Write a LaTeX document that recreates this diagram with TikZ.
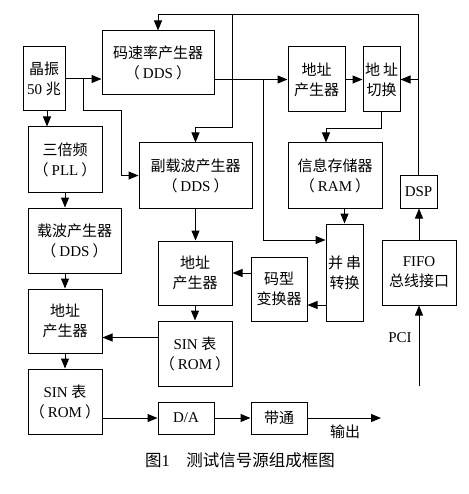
\documentclass[tikz,border=0pt]{standalone}
\usepackage{fontspec}
\setmainfont{Liberation Serif}
\newfontfamily\cjk{Noto Sans CJK SC}
\newcommand\zh[1]{{\cjk #1}}
\newcommand\pp[1]{\zh{（}\hspace{3pt}#1\hspace{3pt}\zh{）}}
\usetikzlibrary{arrows.meta}
\begin{document}
\begin{tikzpicture}[x=1pt,y=-1pt,
 blk/.style={draw, line width=1pt, inner sep=0pt, align=center, font=\fontsize{15}{20}\selectfont},
 arr/.style={line width=1pt, -{Triangle[length=10pt,width=8pt]}},
 ln/.style={line width=1pt},
 lbl/.style={inner sep=0pt, font=\fontsize{15}{20}\selectfont}]
\useasboundingbox (0,0) rectangle (468,494);
% boxes
\node[blk, minimum width=42, minimum height=64] (xtal) at (44,79) {\zh{晶振}\\50 \zh{兆}};
\node[blk, minimum width=112, minimum height=64] (mscl) at (158,63) {\zh{码速率产生器}\\\pp{DDS}};
\node[blk, minimum width=57, minimum height=65] (addr1) at (316.5,79.5) {\zh{地址}\\\zh{产生器}};
\node[blk, minimum width=37, minimum height=65] (sw) at (381.5,79.5) {\zh{地}\hspace{3pt}\zh{址}\\\zh{切换}};
\node[blk, minimum width=74, minimum height=65] (tri) at (65,159.5) {\zh{三倍频}\\\pp{PLL}};
\node[blk, minimum width=113, minimum height=65] (sub) at (195.5,175.5) {\zh{副载波产生器}\\\pp{DDS}};
\node[blk, minimum width=94, minimum height=65] (ram) at (335,175.5) {\zh{信息存储器}\\\pp{RAM}};
\node[blk, minimum width=37, minimum height=32] (dsp) at (418.5,192) {DSP};
\node[blk, minimum width=93, minimum height=65] (car) at (74.5,240.5) {\zh{载波产生器}\\\pp{DDS}};
\node[blk, minimum width=74, minimum height=64] (addr2) at (195,273) {\zh{地址}\\\zh{产生器}};
\node[blk, minimum width=37, minimum height=97] (ps) at (344.5,272.5) {\zh{并}\hspace{3pt}\zh{串}\\\zh{转换}};
\node[blk, minimum width=74, minimum height=65] (fifo) at (419,272.5) {FIFO\\\zh{总线接口}};
\node[blk, minimum width=56, minimum height=64] (code) at (279,289) {\zh{码型}\\\zh{变换器}};
\node[blk, minimum width=74, minimum height=64] (addr3) at (65,321) {\zh{地址}\\\zh{产生器}};
\node[blk, minimum width=74, minimum height=65] (sin2) at (195,353.5) {SIN \zh{表}\\\pp{ROM}};
\node[blk, minimum width=74, minimum height=65] (sin1) at (65,401.5) {SIN \zh{表}\\\pp{ROM}};
\node[blk, minimum width=56, minimum height=32] (da) at (186,418) {D/A};
\node[blk, minimum width=56, minimum height=32] (bp) at (279,418) {\zh{带通}};
% labels
\node[lbl] (pcil) at (400,338) {PCI};
\node[lbl] (outl) at (345,432) {\zh{输出}};
\node[inner sep=0pt, font=\fontsize{16.5}{18}\selectfont] (cap) at (240,460) {\zh{图}1\zh{　测试信号源组成框图}};
% coordinates
\coordinate (j1) at (83,79);
\coordinate (j1a) at (83,111);
\coordinate (j1b) at (121,111);
\coordinate (j2) at (263,79.5);
\coordinate (j2a) at (263,240);
\coordinate (t1) at (418.5,15);
\coordinate (t2) at (158,15);
\coordinate (t3) at (232,15);
\coordinate (t3a) at (232,128);
\coordinate (out) at (381,418);
\coordinate (pci) at (419,386);
% connectors
\draw[arr] (xtal.east) -- (xtal.east -| mscl.west);
\draw[arr] (j1) -- (j1a) -- (j1b) |- (sub.west);
\draw[arr] ([xshift=3pt]xtal.south) -- ([xshift=3pt]xtal.south |- tri.north);
\draw[arr] (tri.south) -- (tri.south |- car.north);
\draw[arr] (addr3.north |- car.south) -- (addr3.north);
\draw[arr] (addr3.south) -- (sin1.north);
\draw[arr] (sin1.east |- da.west) -- (da.west);
\draw[arr] (da.east) -- (bp.west);
\draw[arr] (bp.east) -- (out);
\draw[arr] (sub.south) -- (sub.south |- addr2.north);
\draw[arr] (addr2.south) -- (sin2.north);
\draw[arr] ([yshift=16pt]sin2.west) -- ([yshift=16pt]sin2.west -| addr3.east);
\draw[arr] (code.west |- addr2.east) -- (addr2.east);
\draw[arr] ([yshift=-16pt]code.east -| ps.west) -- ([yshift=-16pt]code.east);
\draw[arr] (ps.north |- ram.south) -- (ps.north);
\draw[arr] (mscl.east |- addr1.west) -- (addr1.west);
\draw[arr] (j2) -- (j2a) -- (j2a -| ps.west);
\draw[arr] (addr1.east) -- (sw.west);
\draw[arr] (sw.south) -- ++(0,16) -| ([xshift=-9pt]ram.north);
\draw[arr] (dsp.north) -- (t1) -- (t2) -- (mscl.north);
\draw[arr] (dsp.north |- sw.east) -- (sw.east);
\draw[arr] (t3) -- (t3a) -| (sub.north);
\draw[arr] (fifo.north) -- (fifo.north |- dsp.south);
\draw[arr] (pci) -- (fifo.south);
\end{tikzpicture}
\end{document}
